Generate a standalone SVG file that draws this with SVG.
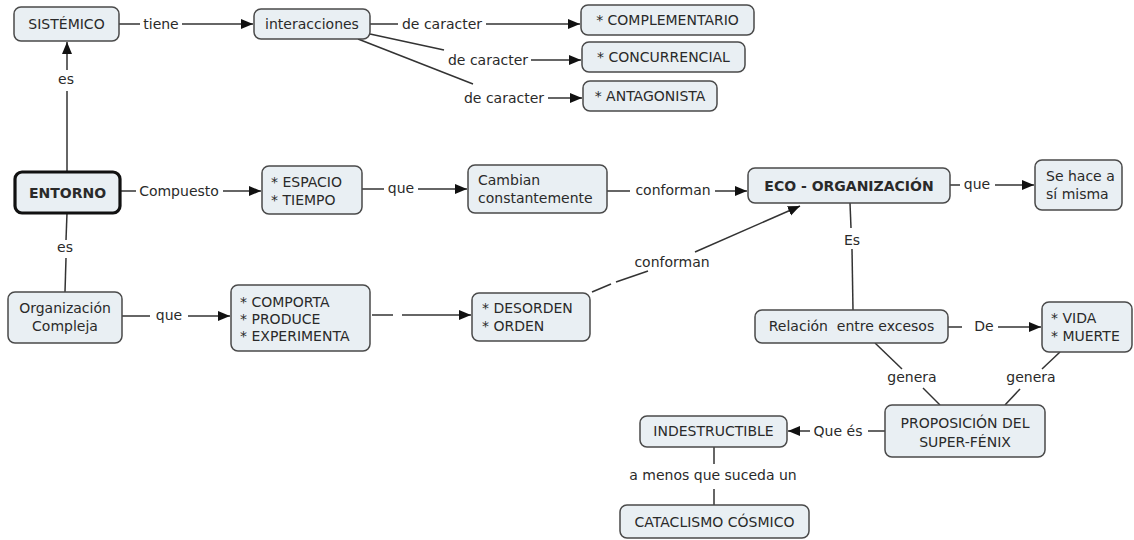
<svg xmlns="http://www.w3.org/2000/svg" width="1134" height="540" viewBox="0 0 1134 540">
<style>
.box{fill:#e9eff3;stroke:#4a4a4a;stroke-width:1.5}
.main{fill:#e9eff3;stroke:#111;stroke-width:3.2}
text{font-family:"DejaVu Sans",Verdana,sans-serif;font-size:14px;fill:#2a2a2a}
.c{text-anchor:middle}
.b{font-weight:bold}
.ln{stroke:#333;stroke-width:1.5;fill:none}
.ar{stroke:#333;stroke-width:1.5;fill:none;marker-end:url(#ah)}
</style>
<defs>
<marker id="ah" markerUnits="userSpaceOnUse" markerWidth="13" markerHeight="11" refX="12" refY="5" orient="auto">
<path d="M0,0 L12,5 L0,10 z" fill="#111"/>
</marker>
</defs>
<rect width="1134" height="540" fill="#fff"/>
<g id="connectors">
<!-- ENTORNO es SISTEMICO -->
<line class="ln" x1="67" y1="172" x2="67" y2="91"/>
<line class="ar" x1="67" y1="70" x2="67" y2="42"/>
<text class="c" x="66" y="84">es</text>
<!-- tiene -->
<line class="ln" x1="119" y1="24" x2="140" y2="24"/>
<text class="c" x="161" y="29">tiene</text>
<line class="ar" x1="182" y1="24" x2="253" y2="24"/>
<!-- de caracter 1 -->
<line class="ln" x1="370" y1="24" x2="398" y2="24"/>
<text class="c" x="442" y="29">de caracter</text>
<line class="ar" x1="486" y1="24" x2="580" y2="24"/>
<!-- de caracter 2 -->
<line class="ln" x1="370" y1="34" x2="444" y2="50"/>
<text class="c" x="488" y="65">de caracter</text>
<line class="ar" x1="531" y1="60" x2="581" y2="60"/>
<!-- de caracter 3 -->
<line class="ln" x1="358" y1="39" x2="473" y2="84"/>
<text class="c" x="504" y="103">de caracter</text>
<line class="ar" x1="548" y1="98" x2="582" y2="98"/>
<!-- Compuesto -->
<line class="ln" x1="120" y1="191" x2="136" y2="191"/>
<text class="c" x="179" y="196">Compuesto</text>
<line class="ar" x1="223" y1="191" x2="261" y2="191"/>
<!-- que -->
<line class="ln" x1="362" y1="189" x2="384" y2="189"/>
<text class="c" x="401" y="193">que</text>
<line class="ar" x1="418" y1="189" x2="467" y2="189"/>
<!-- conforman 1 -->
<line class="ln" x1="607" y1="191" x2="630" y2="191"/>
<text class="c" x="673" y="195">conforman</text>
<line class="ar" x1="715" y1="191" x2="747" y2="191"/>
<!-- que (ECO) -->
<line class="ln" x1="950" y1="185" x2="960" y2="185"/>
<text class="c" x="977" y="189">que</text>
<line class="ar" x1="995" y1="185" x2="1034" y2="185"/>
<!-- ENTORNO es Organizacion -->
<line class="ln" x1="67" y1="213" x2="66" y2="240"/>
<text class="c" x="65" y="252">es</text>
<line class="ln" x1="66" y1="258" x2="65" y2="292"/>
<!-- que (Organizacion) -->
<line class="ln" x1="122" y1="316" x2="150" y2="316"/>
<text class="c" x="169" y="320">que</text>
<line class="ar" x1="188" y1="316" x2="230" y2="316"/>
<!-- COMPORTA -> DESORDEN -->
<line class="ln" x1="372" y1="315" x2="393" y2="315"/>
<line class="ar" x1="402" y1="315" x2="471" y2="315"/>
<!-- conforman 2 -->
<line class="ln" x1="592" y1="292" x2="611" y2="284"/>
<line class="ln" x1="616" y1="282" x2="648" y2="271"/>
<text class="c" x="672" y="267">conforman</text>
<line class="ar" x1="695" y1="252" x2="800" y2="206"/>
<!-- Es -->
<line class="ln" x1="850" y1="203" x2="851" y2="228"/>
<text class="c" x="852" y="245">Es</text>
<line class="ln" x1="852" y1="249" x2="853" y2="310"/>
<!-- De -->
<line class="ln" x1="948" y1="327" x2="962" y2="327"/>
<text class="c" x="984" y="331">De</text>
<line class="ar" x1="998" y1="327" x2="1041" y2="327"/>
<!-- genera 1 -->
<line class="ln" x1="875" y1="343" x2="902" y2="369"/>
<text class="c" x="912" y="382">genera</text>
<line class="ln" x1="923" y1="388" x2="940" y2="405"/>
<!-- genera 2 -->
<line class="ln" x1="1060" y1="352" x2="1042" y2="369"/>
<text class="c" x="1031" y="382">genera</text>
<line class="ln" x1="1020" y1="389" x2="1005" y2="405"/>
<!-- Que es -->
<line class="ln" x1="885" y1="431" x2="868" y2="431"/>
<text class="c" x="838" y="436">Que és</text>
<line class="ar" x1="810" y1="431" x2="788" y2="431"/>
<!-- a menos que suceda un -->
<line class="ln" x1="714" y1="447" x2="714" y2="464"/>
<text class="c" x="713" y="480">a menos que suceda un</text>
<line class="ln" x1="714" y1="489" x2="714" y2="505"/>
</g>
<g id="n-sistemico"><rect class="box" x="14" y="7" width="105" height="34" rx="7"/><text class="c" x="66.5" y="29">SISTÉMICO</text></g>
<g id="n-interacciones"><rect class="box" x="254" y="9" width="116" height="30" rx="7"/><text class="c" x="312" y="29">interacciones</text></g>
<g id="n-complementario"><rect class="box" x="581" y="5" width="173" height="30" rx="7"/><text class="c" x="667.5" y="25">* COMPLEMENTARIO</text></g>
<g id="n-concurrencial"><rect class="box" x="582" y="42" width="163" height="30" rx="7"/><text class="c" x="663.5" y="62">* CONCURRENCIAL</text></g>
<g id="n-antagonista"><rect class="box" x="583" y="81" width="134" height="30" rx="7"/><text class="c" x="650" y="101">* ANTAGONISTA</text></g>
<g id="n-entorno"><rect class="main" x="15" y="172" width="105" height="41" rx="7"/><text class="c b" x="67.5" y="197.5">ENTORNO</text></g>
<g id="n-espacio"><rect class="box" x="262" y="166" width="100" height="48" rx="7"/><text x="271" y="187">* ESPACIO</text><text x="271" y="205">* TIEMPO</text></g>
<g id="n-cambian"><rect class="box" x="468" y="165" width="139" height="48" rx="7"/><text x="478" y="185">Cambian</text><text x="478" y="203">constantemente</text></g>
<g id="n-eco"><rect class="box" x="748" y="168" width="202" height="35" rx="7"/><text class="c b" x="849" y="190.5">ECO - ORGANIZACIÓN</text></g>
<g id="n-sehace"><rect class="box" x="1035" y="160" width="87" height="50" rx="7"/><text x="1046" y="181">Se hace a</text><text x="1046" y="199">sí misma</text></g>
<g id="n-organizacion"><rect class="box" x="8" y="292" width="114" height="51" rx="7"/><text class="c" x="65" y="313">Organización</text><text class="c" x="65" y="331">Compleja</text></g>
<g id="n-comporta"><rect class="box" x="231" y="285" width="139" height="66" rx="7"/><text x="240" y="307">* COMPORTA</text><text x="240" y="324">* PRODUCE</text><text x="240" y="341">* EXPERIMENTA</text></g>
<g id="n-desorden"><rect class="box" x="472" y="293" width="118" height="48" rx="7"/><text x="482" y="313">* DESORDEN</text><text x="482" y="331">* ORDEN</text></g>
<g id="n-relacion"><rect class="box" x="755" y="310" width="193" height="33" rx="7"/><text class="c" x="851.5" y="331" xml:space="preserve">Relación  entre excesos</text></g>
<g id="n-vida"><rect class="box" x="1042" y="302" width="90" height="50" rx="7"/><text x="1051" y="323">* VIDA</text><text x="1051" y="341">* MUERTE</text></g>
<g id="n-proposicion"><rect class="box" x="885" y="405" width="160" height="52" rx="7"/><text class="c" x="965" y="428">PROPOSICIÓN DEL</text><text class="c" x="965" y="447">SUPER-FÉNIX</text></g>
<g id="n-indestructible"><rect class="box" x="640" y="416" width="147" height="31" rx="7"/><text class="c" x="713.5" y="436">INDESTRUCTIBLE</text></g>
<g id="n-cataclismo"><rect class="box" x="620" y="505" width="189" height="33" rx="7"/><text class="c" x="714.5" y="527">CATACLISMO CÓSMICO</text></g>
</svg>
